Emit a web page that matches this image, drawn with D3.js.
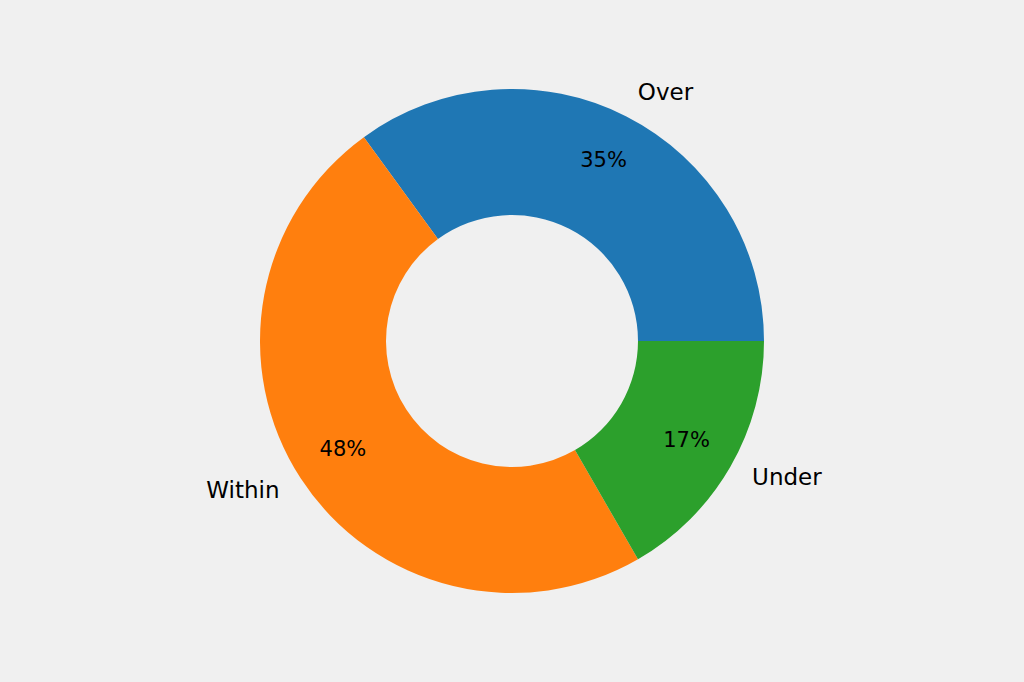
<!DOCTYPE html>
<html><head><meta charset="utf-8">
<script src="https://cdn.jsdelivr.net/npm/d3@7"></script>
<style>html,body{margin:0;padding:0;background:#f0f0f0;}svg{display:block;}</style>
</head><body>
<svg id="c" width="1024" height="682"></svg>
<script>
const categories = ["Over", "Within", "Under"];
const values = [21, 29, 10];
const colors = ["#1f77b4", "#ff7f0e", "#2ca02c"];

const W = 1024, H = 682, cx = 512, cy = 341, R = 252, r0 = 126;
const svg = d3.select("#c");
svg.append("rect").attr("width", W).attr("height", H).attr("fill", "#f0f0f0");
const g = svg.append("g").attr("transform", `translate(${cx},${cy})`);

const data = categories.map((c, i) => ({cat: c, val: values[i], color: colors[i]}));
const pie = d3.pie().value(d => d.val).sort(null)
  .startAngle(Math.PI / 2).endAngle(Math.PI / 2 - 2 * Math.PI);
const arcs = pie(data);
const arc = d3.arc().innerRadius(r0).outerRadius(R);

g.selectAll("path.slice").data(arcs).join("path")
  .attr("class", "slice")
  .attr("d", arc)
  .attr("fill", d => d.data.color);

const total = d3.sum(values);
const font = "'DejaVu Sans', sans-serif";
const mid = d => (d.startAngle + d.endAngle) / 2;

g.selectAll("text.lab").data(arcs).join("text")
  .attr("class", "lab")
  .attr("x", d => Math.sin(mid(d)) * R * 1.1)
  .attr("y", d => -Math.cos(mid(d)) * R * 1.1)
  .attr("dy", "0.25em")
  .attr("text-anchor", d => Math.sin(mid(d)) > 0 ? "start" : "end")
  .attr("font-family", font).attr("font-size", 23).attr("fill", "#000")
  .text(d => d.data.cat);

g.selectAll("text.pct").data(arcs).join("text")
  .attr("class", "pct")
  .attr("x", d => Math.sin(mid(d)) * R * 0.8)
  .attr("y", d => -Math.cos(mid(d)) * R * 0.8)
  .attr("dy", "0.25em")
  .attr("text-anchor", "middle")
  .attr("font-family", font).attr("font-size", 21).attr("fill", "#000")
  .text(d => Math.round(d.data.val / total * 100) + "%");
</script>
</body></html>
